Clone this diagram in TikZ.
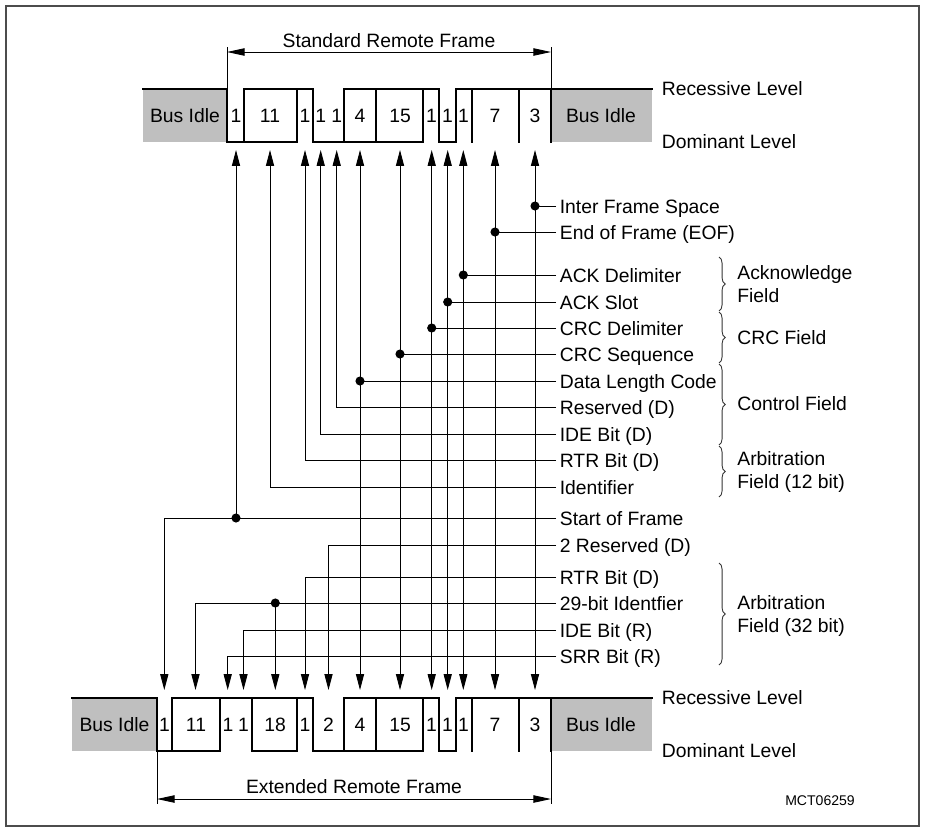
\documentclass[tikz,border=0pt]{standalone}
\usepackage{fontspec}
\setmainfont{Liberation Sans}
\usetikzlibrary{arrows.meta,decorations.pathreplacing}

\tikzset{
    ctip/.tip={Triangle[length=9pt,width=4.6pt]},
    wave/.style={line width=1.2pt, line cap=rect},
    conn/.style={line width=0.5pt, -ctip},
    thru/.style={line width=0.5pt, ctip-ctip},
    lead/.style={line width=0.5pt},
    span/.style={line width=0.5pt, {Triangle[length=10pt,width=4.2pt]}-{Triangle[length=10pt,width=4.2pt]}},
    lbl/.style={anchor=west, inner sep=2pt, text height=9pt, text depth=1pt},
    fld/.style={anchor=west, align=left, inner sep=0pt},
    fbrace/.style={decorate, decoration={brace, amplitude=3.5pt}, line width=0.5pt, black!80},
    idle/.style={fill=black!25},
}

\begin{document}
\begin{tikzpicture}[x=0.02cm, y=-0.02cm, font=\fontsize{11}{13}\selectfont]
                \useasboundingbox (0,0) rectangle (925,832);
                \draw[black!70, line width=0.6pt] (6,6) rectangle (919,826);

                \foreach \n/\x in {1/236,2/270,3/305,4/320.7,5/336.7,6/360,7/400,8/431.7,9/447.7,10/463.3,11/495,12/535}
                    \coordinate (t\n) at (\x,150);
                \foreach \n/\x in {1/164.3,2/195.5,3/227.7,4/243.5,5/275.3,6/305,7/328.5,8/360,9/400,10/431.7,11/447.7,12/463.3,13/495,14/535}
                    \coordinate (b\n) at (\x,690);

                \node (stdname) at (389,41) {Standard Remote Frame};
                \draw[lead] (227,47) -- (227,89) (551,47) -- (551,89);
                \draw[span] (227,52) -- (551,52);

                \fill[idle] (143,89) rectangle (227,142);
                \fill[idle] (551,89) rectangle (652,142);
                \draw[wave] (143,89) -- (227,89) (244,89) -- (313,89) (344,89) -- (439,89) (456,89) -- (652,89);
                \draw[wave] (227,142) -- (297,142) (313,142) -- (423,142) (439,142) -- (456,142);
                \foreach \x in {227,244,297,313,344,376,423,439,456,472,519,551}
                    \draw[wave] (\x,89) -- (\x,142);
                \node (idle1) at (185,115.5) {Bus Idle};
                \node (idle2) at (601,115.5) {Bus Idle};
                \foreach \n/\x/\t in {1/236/1,2/270/11,3/305/1,4/320.7/1,5/336.7/1,6/360/4,7/400/15,8/431.5/1,9/447.5/1,10/463.5/1,11/495/7,12/535/3}
                    \node (sb\n) at (\x,115.5) {\t};
                \node[lbl] (rec1) at (658,88) {Recessive Level};
                \node[lbl] (dom1) at (658,141) {Dominant Level};

                \node[lbl] (ifs) at (556,206) {Inter Frame Space};
                \node[lbl] (eof) at (556,232) {End of Frame (EOF)};
                \node[lbl] (ackdel) at (556,275) {ACK Delimiter};
                \node[lbl] (ackslot) at (556,302) {ACK Slot};
                \node[lbl] (crcdel) at (556,328) {CRC Delimiter};
                \node[lbl] (crcseq) at (556,354) {CRC Sequence};
                \node[lbl] (dlc) at (556,381) {Data Length Code};
                \node[lbl] (rsv) at (556,407) {Reserved (D)};
                \node[lbl] (ide) at (556,434) {IDE Bit (D)};
                \node[lbl] (rtr) at (556,460) {RTR Bit (D)};
                \node[lbl] (ident) at (556,487) {Identifier};
                \node[lbl] (sof) at (556,518) {Start of Frame};
                \node[lbl] (rsvx) at (556,545) {2 Reserved (D)};
                \node[lbl] (rtrx) at (556,577) {RTR Bit (D)};
                \node[lbl] (idx) at (556,603) {29-bit Identfier};
                \node[lbl] (idex) at (556,630) {IDE Bit (R)};
                \node[lbl] (srrx) at (556,656) {SRR Bit (R)};

                \foreach \l/\c/\b in {dlc/6/8,crcseq/7/9,crcdel/8/10,ackslot/9/11,ackdel/10/12,eof/11/13,ifs/12/14} {
                    \draw[thru] (t\c) -- (b\b);
                    \draw[lead] (\l.west) -- (\l.west -| t\c);
                    \fill (\l.west -| t\c) circle (2.6pt);
                }
                \draw[conn] (rsv.west) -| (t5);
                \draw[conn] (ide.west) -| (t4);
                \draw[conn] (rtr.west) -| (t3);
                \draw[conn] (ident.west) -| (t2);
                \draw[conn] (sof.west) -| (b1);
                \draw[conn] (sof.west -| t1) -- (t1);
                \fill (sof.west -| t1) circle (2.6pt);
                \draw[conn] (rsvx.west) -| (b7);
                \draw[conn] (rtrx.west) -| (b6);
                \draw[conn] (idx.west) -| (b2);
                \draw[conn] (idx.west -| b5) -- (b5);
                \fill (idx.west -| b5) circle (2.6pt);
                \draw[conn] (idex.west) -| (b4);
                \draw[conn] (srrx.west) -| (b3);

                \draw[fbrace] (719,257) -- (719,311);
                \node[fld] (ackf) at (737,284) {Acknowledge\\Field};
                \draw[fbrace] (719,312) -- (719,363);
                \node[fld] (crcf) at (737,338) {CRC Field};
                \draw[fbrace] (719,364) -- (719,445);
                \node[fld] (ctlf) at (737,404) {Control Field};
                \draw[fbrace] (719,446) -- (719,497);
                \node[fld] (arbf1) at (737,472) {Arbitration\\Field (12 bit)};
                \draw[fbrace] (719,563) -- (719,665);
                \node[fld] (arbf2) at (737,616) {Arbitration\\Field (32 bit)};

                \fill[idle] (72,698) rectangle (157,751);
                \fill[idle] (551,698) rectangle (652,751);
                \draw[wave] (72,698) -- (157,698) (172,698) -- (313,698) (344,698) -- (439,698) (456,698) -- (652,698);
                \draw[wave] (157,751) -- (220,751) (252,751) -- (297,751) (313,751) -- (423,751) (439,751) -- (456,751);
                \foreach \x in {157,172,220,252,297,313,344,376,423,439,456,472,519,551}
                    \draw[wave] (\x,698) -- (\x,751);
                \node (idle3) at (114.5,724.5) {Bus Idle};
                \node (idle4) at (601,724.5) {Bus Idle};
                \foreach \n/\x/\t in {1/164.5/1,2/196/11,3/228/1,4/243.5/1,5/275/18,6/305/1,7/328.5/2,8/360/4,9/400/15,10/431.5/1,11/447.5/1,12/463.5/1,13/495/7,14/535/3}
                    \node (xb\n) at (\x,724.5) {\t};
                \node[lbl] (rec2) at (658,697) {Recessive Level};
                \node[lbl] (dom2) at (658,750) {Dominant Level};

                \draw[lead] (157,751) -- (157,804) (551,751) -- (551,804);
                \draw[span] (157,799) -- (551,799);
                \node (extname) at (354,787) {Extended Remote Frame};
                \node[font=\fontsize{8}{9.5}\selectfont] (code) at (820,801) {MCT06259};
\end{tikzpicture}
\end{document}
